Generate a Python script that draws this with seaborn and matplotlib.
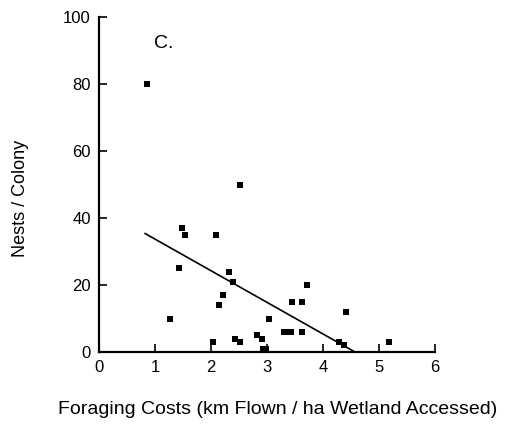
import matplotlib
matplotlib.use("Agg")
import matplotlib.pyplot as plt
import seaborn as sns
import pandas as pd

# Data
cost = [0.85, 1.27, 1.43, 1.48, 1.54, 2.04, 2.09, 2.14, 2.22, 2.33, 2.39, 2.43,
        2.52, 2.52, 2.83, 2.91, 2.93, 2.99, 3.03, 3.30, 3.36, 3.42, 3.45, 3.62,
        3.62, 3.72, 4.29, 4.38, 4.41, 5.18]
nests = [80, 10, 25, 37, 35, 3, 35, 14, 17, 24, 21, 4,
         3, 50, 5, 4, 1, 1, 10, 6, 6, 6, 15, 15,
         6, 20, 3, 2, 12, 3]
fit_x = [0.82, 4.57]
fit_y = [35.4, 0.0]
x_ticks = [0, 1, 2, 3, 4, 5, 6]
y_ticks = [0, 20, 40, 60, 80, 100]
panel_label = "C."
x_label = "Foraging Costs (km Flown / ha Wetland Accessed)"
y_label = "Nests / Colony"

sns.set_style("ticks")
plt.rcParams['font.family'] = ['Liberation Sans', 'DejaVu Sans']
plt.rcParams['text.color'] = 'black'
plt.rcParams['axes.labelcolor'] = 'black'
plt.rcParams['xtick.color'] = 'black'
plt.rcParams['ytick.color'] = 'black'

fig = plt.figure(figsize=(5.28, 4.26), dpi=100)
ax = fig.add_axes([99/528, (426-352)/426, (435-99)/528, (352-17)/426])

df = pd.DataFrame({"cost": cost, "nests": nests})
sns.scatterplot(data=df, x="cost", y="nests", marker="s", s=24, color="black",
                edgecolor="black", linewidth=0, ax=ax)
sns.lineplot(x=fit_x, y=fit_y, color="black", linewidth=1.2, ax=ax)

ax.set_xlim(0, 6)
ax.set_ylim(0, 100)
ax.set_xticks(x_ticks)
ax.set_yticks(y_ticks)
ax.tick_params(direction="in", length=6, width=1.2, labelsize=12,
               colors="black", labelcolor="black")
ax.tick_params(axis="x", pad=6)
ax.tick_params(axis="y", pad=6)
for s in ["top", "right"]:
    ax.spines[s].set_visible(False)
for s in ["left", "bottom"]:
    ax.spines[s].set_linewidth(1.6)
    ax.spines[s].set_color("black")

ax.set_xlabel(x_label, fontsize=14, color="black")
ax.xaxis.set_label_coords(0.531, -0.173)
ax.xaxis.label.set_va("center")
ax.set_ylabel(y_label, fontsize=13, color="black")
ax.yaxis.set_label_coords(-0.235, 0.457)
ax.yaxis.label.set_va("center")
ax.text(1.16, 92, panel_label, fontsize=14, ha="center", va="center", color="black")

fig.savefig("out.png", dpi=100)
